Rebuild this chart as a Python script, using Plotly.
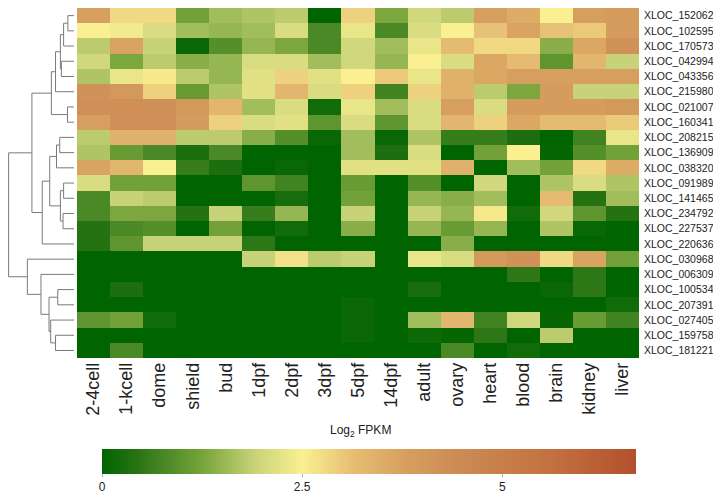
import plotly.graph_objects as go

samples = ["2-4cell", "1-kcell", "dome", "shield", "bud", "1dpf", "2dpf", "3dpf", "5dpf",
           "14dpf", "adult", "ovary", "heart", "blood", "brain", "kidney", "liver"]

genes = ["XLOC_152062", "XLOC_102595", "XLOC_170573", "XLOC_042994", "XLOC_043356",
         "XLOC_215980", "XLOC_021007", "XLOC_160341", "XLOC_208215", "XLOC_136909",
         "XLOC_038320", "XLOC_091989", "XLOC_141465", "XLOC_234792", "XLOC_227537",
         "XLOC_220636", "XLOC_030968", "XLOC_006309", "XLOC_100534", "XLOC_207391",
         "XLOC_027405", "XLOC_159758", "XLOC_181221"]

log2_fpkm = [
    [3.8, 2.8, 2.8, 1.2, 1.6, 1.7, 1.8, 0.0, 2.9, 1.3, 2.0, 1.8, 3.8, 3.5, 2.5, 3.8, 3.9],
    [2.5, 2.4, 2.1, 1.6, 1.5, 1.6, 2.1, 0.8, 2.3, 0.8, 2.1, 2.5, 3.1, 3.7, 3.1, 3.0, 3.9],
    [1.8, 3.7, 1.9, 0.1, 0.9, 1.5, 1.3, 0.8, 2.0, 1.6, 2.3, 3.2, 2.8, 2.8, 1.4, 3.6, 4.2],
    [2.0, 1.3, 1.8, 1.4, 1.5, 2.1, 2.1, 1.6, 2.0, 1.5, 2.5, 2.1, 3.6, 3.2, 1.0, 3.3, 1.9],
    [1.7, 2.3, 2.6, 1.8, 1.5, 2.2, 2.9, 2.2, 2.5, 3.0, 2.3, 3.4, 3.6, 3.8, 3.8, 3.8, 3.8],
    [4.2, 4.0, 2.9, 1.1, 1.7, 2.2, 3.3, 2.1, 2.9, 0.7, 2.9, 3.4, 1.8, 1.3, 3.9, 1.9, 1.9],
    [4.3, 4.3, 4.3, 4.0, 3.3, 1.6, 2.1, 0.2, 2.3, 1.6, 2.1, 3.8, 2.1, 3.9, 3.9, 3.9, 4.0],
    [3.8, 4.3, 4.3, 3.9, 2.9, 2.1, 2.2, 1.0, 2.1, 1.0, 2.1, 3.3, 2.9, 3.6, 3.2, 3.2, 3.0],
    [1.8, 3.4, 3.4, 1.8, 1.8, 1.4, 0.9, 0.1, 1.6, 0.1, 1.7, 0.6, 0.6, 0.3, 0.0, 0.7, 2.3],
    [1.7, 1.1, 0.8, 0.3, 0.8, 0.0, 0.0, 0.0, 1.6, 0.3, 2.1, 0.0, 1.2, 2.5, 0.05, 0.9, 1.2],
    [3.7, 3.3, 2.5, 0.6, 0.3, 0.0, 0.1, 0.0, 2.2, 2.2, 2.2, 3.4, 0.0, 1.6, 1.2, 2.8, 3.5],
    [2.1, 1.2, 1.2, 0.0, 0.0, 1.0, 0.7, 0.0, 1.1, 0.0, 0.9, 0.0, 2.0, 0.0, 1.7, 2.1, 1.7],
    [0.8, 1.9, 1.8, 0.0, 0.0, 0.0, 0.25, 0.0, 1.2, 0.0, 1.5, 1.4, 1.6, 0.0, 3.2, 0.4, 1.6],
    [0.8, 1.3, 1.3, 0.4, 1.9, 0.6, 1.5, 0.0, 1.9, 0.0, 1.9, 1.5, 2.6, 0.2, 2.0, 1.0, 0.4],
    [0.4, 0.8, 0.9, 0.0, 1.2, 0.0, 0.2, 0.0, 1.4, 0.0, 1.5, 1.1, 1.5, 0.0, 1.7, 0.1, 0.0],
    [0.4, 1.0, 1.9, 1.9, 1.9, 0.5, 0.0, 0.0, 0.0, 0.0, 0.0, 1.4, 0.0, 0.0, 0.0, 0.0, 0.0],
    [0.0, 0.0, 0.0, 0.0, 0.0, 1.9, 2.7, 1.8, 1.9, 0.0, 2.3, 2.1, 4.0, 4.2, 2.8, 3.7, 1.2],
    [0.0, 0.0, 0.0, 0.0, 0.0, 0.0, 0.0, 0.0, 0.0, 0.0, 0.0, 0.0, 0.0, 0.5, 0.0, 0.5, 0.0],
    [0.0, 0.3, 0.0, 0.0, 0.0, 0.0, 0.0, 0.0, 0.0, 0.0, 0.25, 0.0, 0.0, 0.0, 0.1, 0.5, 0.0],
    [0.0, 0.0, 0.0, 0.0, 0.0, 0.0, 0.0, 0.0, 0.1, 0.0, 0.0, 0.0, 0.0, 0.0, 0.0, 0.0, 0.2],
    [1.0, 1.2, 0.2, 0.0, 0.0, 0.0, 0.0, 0.0, 0.1, 0.0, 1.6, 3.3, 0.7, 2.0, 0.05, 1.1, 0.7],
    [0.0, 0.0, 0.0, 0.0, 0.0, 0.0, 0.0, 0.0, 0.1, 0.0, 0.15, 0.05, 0.5, 0.0, 1.8, 0.0, 0.0],
    [0.0, 0.8, 0.0, 0.0, 0.0, 0.0, 0.0, 0.0, 0.0, 0.0, 0.0, 0.8, 0.0, 0.2, 0.0, 0.0, 0.0],
]

# Hierarchical clustering of the rows: (name, left child, right child, merge height)
merges = [
    ("A", 0, 1, 6.3), ("B", "A", 2, 10.7), ("C", 3, 4, 13.0), ("D", "B", "C", 14.0),
    ("E", "D", 5, 19.0), ("F", 6, 7, 6.7), ("G", "E", "F", 23.3),
    ("H", 8, 9, 14.7), ("I", "H", 10, 18.0), ("J", 11, 12, 10.7), ("K", 13, 14, 11.3),
    ("L", "J", "K", 14.0), ("M", "I", "L", 25.0), ("N", "M", 15, 32.7), ("O", "G", "N", 43.3),
    ("P", 18, 19, 16.7), ("Q", 21, 22, 19.0), ("R", 20, "Q", 24.0), ("S", "P", "R", 25.7),
    ("T", 17, "S", 34.0), ("U", 16, "T", 48.0), ("V", "O", "U", 67.3),
]

colorscale = [
    [0.0, "rgb(0,100,0)"], [0.065, "rgb(40,115,20)"], [0.19, "rgb(120,165,60)"],
    [0.285, "rgb(200,210,120)"], [0.375, "rgb(250,240,145)"], [0.47, "rgb(230,190,115)"],
    [0.565, "rgb(215,160,95)"], [0.66, "rgb(205,140,85)"], [0.83, "rgb(195,115,65)"],
    [1.0, "rgb(180,80,45)"],
]

# the page has an 8px body margin, so the figure is 8px smaller and shifted
W, H = 713, 487
OFF = 8
FONT = "Liberation Sans, Arial, sans-serif"


def fx(px):
    return (px - OFF) / W


def fy(py):
    return 1 - (py - OFF) / H


# dendrogram segments
pos = {}
hgt = {}
for i in range(len(genes)):
    pos[i] = float(i)
    hgt[i] = 0.0
dx, dy = [], []
for name, a, b, h in merges:
    for c in (a, b):
        dx += [hgt[c], h, None]
        dy += [pos[c], pos[c], None]
    dx += [h, h, None]
    dy += [pos[a], pos[b], None]
    pos[name] = (pos[a] + pos[b]) / 2
    hgt[name] = h

fig = go.Figure()
fig.add_trace(go.Heatmap(
    z=log2_fpkm, x=list(range(len(samples))), y=list(range(len(genes))),
    colorscale=colorscale, zmin=0, zmax=6.67, hoverinfo="skip",
    colorbar=dict(
        orientation="h", x=(fx(102) + fx(636)) / 2, xanchor="center",
        len=(636 - 102) / W, lenmode="fraction",
        y=fy(453), yanchor="top", thickness=25, thicknessmode="pixels",
        xpad=0, ypad=0, outlinewidth=0,
        tickvals=[0, 2.5, 5], ticktext=["0", "2.5", "5"],
        ticks="outside", ticklen=3, tickcolor="#aaa",
        tickfont=dict(family=FONT, size=12, color="#222"),
    ),
))
fig.add_trace(go.Scatter(
    x=dx, y=dy, xaxis="x2", yaxis="y", mode="lines",
    line=dict(color="#7a7a7a", width=1), hoverinfo="skip", showlegend=False,
))

# dendrogram axis: leaves at page x=74, root just inside the figure's left edge
dend_w = 77 - OFF
leaf_px, root_px = 74 - OFF, 0.6
k = (leaf_px - root_px) / 67.3
r_left = leaf_px / k
r_right = -(dend_w - leaf_px) / k

fig.update_layout(
    width=W, height=H, margin=dict(l=0, r=0, t=0, b=0),
    paper_bgcolor="white", plot_bgcolor="white",
    font=dict(family=FONT, color="#222"),
    xaxis=dict(domain=[fx(77), fx(639)], range=[-0.5, len(samples) - 0.5],
               tickvals=list(range(len(samples))), ticktext=samples, tickangle=-90,
               tickfont=dict(size=18, color="#222"), showgrid=False, zeroline=False,
               ticks="", showline=False, anchor="y"),
    yaxis=dict(domain=[fy(361), fy(8)], range=[len(genes) - 0.5, -0.5],
               tickvals=list(range(len(genes))), ticktext=genes, side="right",
               tickfont=dict(size=10.5, color="#222"), showgrid=False, zeroline=False,
               ticks="", showline=False, anchor="x", ticklabelstandoff=4),
    xaxis2=dict(domain=[0, fx(77)], range=[r_left, r_right], visible=False, anchor="y",
                showgrid=False, zeroline=False),
    showlegend=False,
    annotations=[dict(text="Log<sub>2</sub> FPKM", x=fx(360), y=fy(434),
                      xref="paper", yref="paper", showarrow=False,
                      xanchor="center", yanchor="middle",
                      font=dict(family=FONT, size=12, color="#222"))],
)

fig.write_html("out.html", config={"displayModeBar": False})
